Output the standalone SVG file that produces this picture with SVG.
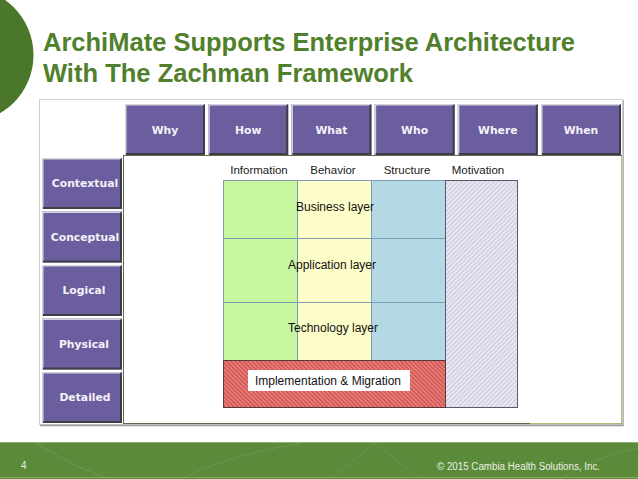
<svg xmlns="http://www.w3.org/2000/svg" width="638" height="479" viewBox="0 0 638 479">
<style>
.title{font-family:"Liberation Sans",Arial,sans-serif;font-weight:bold;font-size:25.5px;fill:#50802b}
.btn{fill:#6b5d9e}
.hi{stroke:#d4d4dc;stroke-width:1.5}
.sh{stroke:#3e3e48;stroke-width:2}
.bt{font-family:"DejaVu Sans",Verdana,sans-serif;font-weight:bold;font-size:10.8px;fill:#f3f2f8;text-anchor:middle}
.lbl{font-family:"Liberation Sans",Arial,sans-serif;font-size:12px;fill:#111;text-anchor:middle}
.hdr{font-family:"Liberation Sans",Arial,sans-serif;font-size:11.5px;fill:#1a1a1a;text-anchor:middle}
.grid{stroke:#7c9cb2;stroke-width:1;fill:none}
.foot{font-family:"Liberation Sans",Arial,sans-serif;font-size:10px;fill:#e9efe2}
</style>
<defs>
<pattern id="hatchRed" width="3" height="3" patternUnits="userSpaceOnUse" patternTransform="rotate(-45)">
<rect width="3" height="3" fill="#ec8682"/>
<line x1="0.8" y1="0" x2="0.8" y2="3" stroke="#c23c3a" stroke-width="1.1"/>
</pattern>
<pattern id="hatchLav" width="3.2" height="3.2" patternUnits="userSpaceOnUse" patternTransform="rotate(45)">
<rect width="3.2" height="3.2" fill="#ece8f4"/>
<line x1="0.8" y1="0" x2="0.8" y2="3.2" stroke="#c8c0dc" stroke-width="1"/>
</pattern>
</defs>
<rect width="638" height="479" fill="#ffffff"/>
<g id="decor-circle"><circle cx="-34" cy="55" r="67.5" fill="#4a7729"/></g>
<g id="title">
<text class="title" x="43" y="51" textLength="532" lengthAdjust="spacingAndGlyphs">ArchiMate Supports Enterprise Architecture</text>
<text class="title" x="43" y="82" textLength="370" lengthAdjust="spacingAndGlyphs">With The Zachman Framework</text>
</g>
<g id="outer-panel">
<rect x="39.5" y="99.5" width="583" height="325" fill="#ffffff" stroke="#cfcfcf"/>
<line x1="40" y1="425.5" x2="623" y2="425.5" stroke="#9a9a9a" stroke-width="1.5"/>
<line x1="623.5" y1="100" x2="623.5" y2="426" stroke="#b4b4b4" stroke-width="1"/>
</g>
<g id="inner-panel">
<rect x="123.5" y="155.5" width="498" height="268" fill="#ffffff" stroke="#5d6a52" stroke-width="1"/>
<line x1="530" y1="423.5" x2="621.5" y2="423.5" stroke="#a8c070" stroke-width="1"/>
<line x1="621.5" y1="156" x2="621.5" y2="423" stroke="#a8c070" stroke-width="1"/>
<rect x="215" y="156" width="315" height="267" fill="#ffffff"/>
</g>
<g id="col-why"><rect class="btn" x="125" y="104" width="80" height="51"/><path class="hi" d="M125.8 155V104.8H204" fill="none"/><path class="sh" d="M204 105V154H126" fill="none"/><text class="bt" x="165" y="134">Why</text></g>
<g id="col-how"><rect class="btn" x="208.2" y="104" width="80" height="51"/><path class="hi" d="M209 155V104.8H287.2" fill="none"/><path class="sh" d="M287.2 105V154H209.2" fill="none"/><text class="bt" x="248.2" y="134">How</text></g>
<g id="col-what"><rect class="btn" x="291.4" y="104" width="80" height="51"/><path class="hi" d="M292.2 155V104.8H370.4" fill="none"/><path class="sh" d="M370.4 105V154H292.4" fill="none"/><text class="bt" x="331.4" y="134">What</text></g>
<g id="col-who"><rect class="btn" x="374.6" y="104" width="80" height="51"/><path class="hi" d="M375.4 155V104.8H453.6" fill="none"/><path class="sh" d="M453.6 105V154H375.6" fill="none"/><text class="bt" x="414.6" y="134">Who</text></g>
<g id="col-where"><rect class="btn" x="457.8" y="104" width="80" height="51"/><path class="hi" d="M458.6 155V104.8H536.8" fill="none"/><path class="sh" d="M536.8 105V154H458.8" fill="none"/><text class="bt" x="497.8" y="134">Where</text></g>
<g id="col-when"><rect class="btn" x="541" y="104" width="80" height="51"/><path class="hi" d="M541.8 155V104.8H620" fill="none"/><path class="sh" d="M620 105V154H542" fill="none"/><text class="bt" x="581" y="134">When</text></g>
<g id="row-contextual"><rect class="btn" x="42" y="158" width="80" height="51"/><path class="hi" d="M42.8 209V158.8H121" fill="none"/><path class="sh" d="M121 159V208H43" fill="none"/><text class="bt" x="85" y="187">Contextual</text></g>
<g id="row-conceptual"><rect class="btn" x="42" y="211.5" width="80" height="51"/><path class="hi" d="M42.8 262.5V212.3H121" fill="none"/><path class="sh" d="M121 212.5V261.5H43" fill="none"/><text class="bt" x="85" y="240.5">Conceptual</text></g>
<g id="row-logical"><rect class="btn" x="42" y="265" width="80" height="51"/><path class="hi" d="M42.8 316V265.8H121" fill="none"/><path class="sh" d="M121 266V315H43" fill="none"/><text class="bt" x="84" y="294">Logical</text></g>
<g id="row-physical"><rect class="btn" x="42" y="318.5" width="80" height="51"/><path class="hi" d="M42.8 369.5V319.3H121" fill="none"/><path class="sh" d="M121 319.5V368.5H43" fill="none"/><text class="bt" x="84" y="347.5">Physical</text></g>
<g id="row-detailed"><rect class="btn" x="42" y="372" width="80" height="51"/><path class="hi" d="M42.8 423V372.8H121" fill="none"/><path class="sh" d="M121 373V422H43" fill="none"/><text class="bt" x="85" y="401">Detailed</text></g>
<g id="archimate-headers">
<text class="hdr" x="259" y="174">Information</text>
<text class="hdr" x="333" y="174">Behavior</text>
<text class="hdr" x="407" y="174">Structure</text>
<text class="hdr" x="478" y="174">Motivation</text>
</g>
<g id="col-information"><rect x="223" y="180" width="74" height="180" fill="#c8f6a0"/></g>
<g id="col-behavior"><rect x="297" y="180" width="74" height="180" fill="#fdfdca"/></g>
<g id="col-structure"><rect x="371" y="180" width="74" height="180" fill="#b3d9e5"/></g>
<g id="grid-lines">
<line class="grid" x1="223" y1="238.5" x2="445" y2="238.5"/>
<line class="grid" x1="223" y1="302.5" x2="445" y2="302.5"/>
<line class="grid" x1="297.5" y1="180" x2="297.5" y2="360"/>
<line class="grid" x1="371.5" y1="180" x2="371.5" y2="360"/>
<rect class="grid" x="223.5" y="180.5" width="222" height="180"/>
</g>
<g id="motivation"><rect x="445.5" y="180.5" width="72" height="227" fill="url(#hatchLav)" stroke="#5a5a66" stroke-width="1"/></g>
<g id="implementation-migration">
<rect x="223.5" y="360.5" width="222" height="47" fill="url(#hatchRed)" stroke="#5a3a3a" stroke-width="1"/>
<rect x="248" y="370" width="162" height="21" fill="#ffffff"/>
<text class="lbl" x="328" y="385">Implementation &amp; Migration</text>
</g>
<g id="business-layer"><text class="lbl" x="335" y="211">Business layer</text></g>
<g id="application-layer"><text class="lbl" x="332" y="269">Application layer</text></g>
<g id="technology-layer"><text class="lbl" x="333" y="332">Technology layer</text></g>
<g id="connectors"></g>
<g id="footer">
<rect x="0" y="442" width="638" height="37" fill="#5b8a3b"/>
<line x1="0" y1="442.5" x2="638" y2="442.5" stroke="#8db46c" stroke-width="1"/>
<line x1="0" y1="477.5" x2="638" y2="477.5" stroke="#86ae66" stroke-width="1"/>
<path d="M36 443 Q 80 470 110 479" fill="none" stroke="#ffffff" stroke-opacity="0.12"/>
<path d="M180 479 Q 230 455 300 443" fill="none" stroke="#ffffff" stroke-opacity="0.1"/>
<path d="M330 479 L 375 443 L 420 479" fill="none" stroke="#ffffff" stroke-opacity="0.1"/>
<path d="M560 479 Q 600 455 638 448" fill="none" stroke="#ffffff" stroke-opacity="0.1"/>
<text class="foot" x="21" y="469">4</text>
<text class="foot" x="437" y="470" textLength="163" lengthAdjust="spacingAndGlyphs">© 2015 Cambia Health Solutions, Inc.</text>
</g>
</svg>
